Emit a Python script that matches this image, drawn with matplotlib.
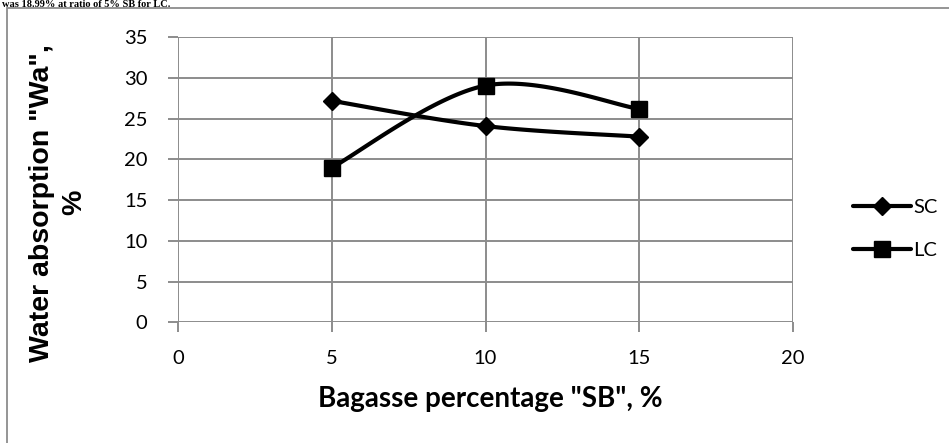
import numpy as np
import matplotlib
matplotlib.use("Agg")
import matplotlib.pyplot as plt
from matplotlib.patches import Rectangle

# Data
sb_percent = [5, 10, 15]
sc_values = [27.2, 24.1, 22.8]
lc_values = [18.99, 29.07, 26.2]
series_names = ["SC", "LC"]
x_ticks = [0, 5, 10, 15, 20]
y_ticks = [0, 5, 10, 15, 20, 25, 30, 35]


def smooth_curve(xs, ys, n=60):
    """Bezier smoothing through the points (spreadsheet-style smoothed line)."""
    pts = np.column_stack([xs, ys]).astype(float)
    out = []
    m = len(pts)
    for i in range(m - 1):
        p0 = pts[i - 1] if i > 0 else pts[i]
        p1 = pts[i]
        p2 = pts[i + 1]
        p3 = pts[i + 2] if i + 2 < m else pts[i + 1]
        c1 = p1 + (p2 - p0) / 6.0
        c2 = p2 - (p3 - p1) / 6.0
        t = np.linspace(0, 1, n)[:, None]
        seg = ((1 - t) ** 3) * p1 + 3 * ((1 - t) ** 2) * t * c1 + 3 * (1 - t) * t ** 2 * c2 + t ** 3 * p2
        out.append(seg if i == 0 else seg[1:])
    c = np.vstack(out)
    return c[:, 0], c[:, 1]


W, H = 949, 443
fig = plt.figure(figsize=(W / 100, H / 100), dpi=100)

# outer chart frame (runs past the right and bottom edges)
fig.patches.append(Rectangle((7 / W, -0.05), 1.1, 1 - 8 / H + 0.05,
                             transform=fig.transFigure, fill=False,
                             edgecolor="#8c8c8c", linewidth=1.3, clip_on=False))

# tail of the preceding text line
fig.text(2 / W, 1 - 7 / H, 'was 18.99% at ratio of 5% SB for LC.',
         family="Liberation Serif", fontsize=7.5, fontweight="bold",
         va="baseline", ha="left")

ax = fig.add_axes([178 / W, 1 - 322.3 / H, (793 - 178) / W, (322.3 - 37.3) / H])
grid_c = "#8c8c8c"
ax.set_xlim(0, 20)
ax.set_ylim(0, 35)
ax.set_xticks(x_ticks)
ax.set_yticks(y_ticks)
ax.grid(True, color=grid_c, linewidth=1.4)
ax.set_axisbelow(True)
for s in ax.spines.values():
    s.set_visible(False)
ax.tick_params(axis="both", color=grid_c, width=1.4, length=7, direction="out",
               labelsize=14.5, pad=5)
for lab in ax.get_xticklabels() + ax.get_yticklabels():
    lab.set_family("Lato")
ax.tick_params(axis="x", pad=13)
ax.tick_params(axis="y", pad=15)

sx, sy = smooth_curve(sb_percent, sc_values)
lx, ly = smooth_curve(sb_percent, lc_values)
ax.plot(sx, sy, color="black", linewidth=3, solid_capstyle="round", zorder=3)
ax.plot(lx, ly, color="black", linewidth=3, solid_capstyle="round", zorder=3)
ax.plot(sb_percent, sc_values, linestyle="none", marker="D", markersize=9,
        color="black", zorder=4, clip_on=False)
ax.plot(sb_percent, lc_values, linestyle="none", marker="s", markersize=11.5,
        color="black", zorder=4, clip_on=False)

# legend entries
h1, = ax.plot([], [], color="black", linewidth=3, marker="D", markersize=9,
              solid_capstyle="round")
h2, = ax.plot([], [], color="black", linewidth=3, marker="s", markersize=11.5,
              solid_capstyle="round")
leg = fig.legend([h1, h2], series_names, loc="center left",
                 bbox_to_anchor=(843 / W, 1 - 229 / H), frameon=False,
                 prop={"family": "Lato", "size": 14.5}, handlelength=2.9,
                 handletextpad=0.1, labelspacing=1.3, borderpad=0)

ax.set_xlabel('Bagasse percentage "SB", %', family="Lato", fontweight="bold",
              fontsize=20, va="top")
ax.xaxis.set_label_coords((490 - 178) / 615, -0.225)
ax.set_ylabel('Water absorption "Wa",\n%', family="Liberation Sans",
              fontweight="bold", fontsize=20.5, linespacing=1.3)
ax.yaxis.set_label_coords(-0.148, 0.42)

fig.savefig("out.png", dpi=100)
